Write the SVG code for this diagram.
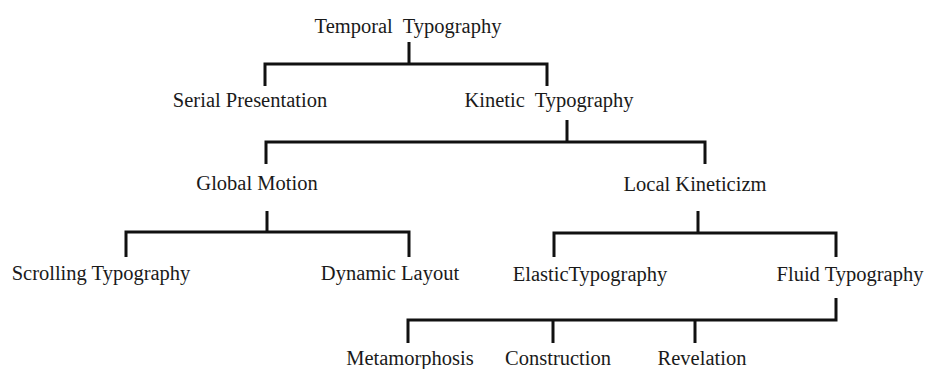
<svg xmlns="http://www.w3.org/2000/svg" width="926" height="369" viewBox="0 0 926 369">
<style>
.bg{fill:#fff}
.lbl{font-family:"Liberation Serif","Times New Roman",serif;font-size:20.5px;fill:#1a1a1a;text-anchor:middle;white-space:pre}
.conn path{fill:none;stroke:#111;stroke-width:3;stroke-linejoin:miter;stroke-linecap:butt}
</style>
<rect class="bg" x="0" y="0" width="926" height="369"/>
<g id="connectors" class="conn">
<path d="M409,42 V64 M265,86 V64 H547 V86"/>
<path d="M567,120 V142 M266,164 V142 H705 V164"/>
<path d="M267,211 V232 M126,257 V232 H409 V257"/>
<path d="M698,211 V233 M554,257 V233 H836 V257"/>
<path d="M836,298 V320 H408 V343 M553,320 V343 M695,320 V343"/>
</g>
<g id="temporal"><text class="lbl" x="408" y="33">Temporal  Typography</text></g>
<g id="serial"><text class="lbl" x="250" y="107">Serial Presentation</text></g>
<g id="kinetic"><text class="lbl" x="549" y="107">Kinetic  Typography</text></g>
<g id="global"><text class="lbl" x="257" y="190">Global Motion</text></g>
<g id="local"><text class="lbl" x="695" y="191">Local Kineticizm</text></g>
<g id="scrolling"><text class="lbl" x="101" y="280">Scrolling Typography</text></g>
<g id="dynamic"><text class="lbl" x="390" y="280">Dynamic Layout</text></g>
<g id="elastic"><text class="lbl" x="590" y="281">ElasticTypography</text></g>
<g id="fluid"><text class="lbl" x="850" y="281">Fluid Typography</text></g>
<g id="metamorphosis"><text class="lbl" x="410" y="365">Metamorphosis</text></g>
<g id="construction"><text class="lbl" x="558" y="365">Construction</text></g>
<g id="revelation"><text class="lbl" x="702" y="365">Revelation</text></g>
</svg>
